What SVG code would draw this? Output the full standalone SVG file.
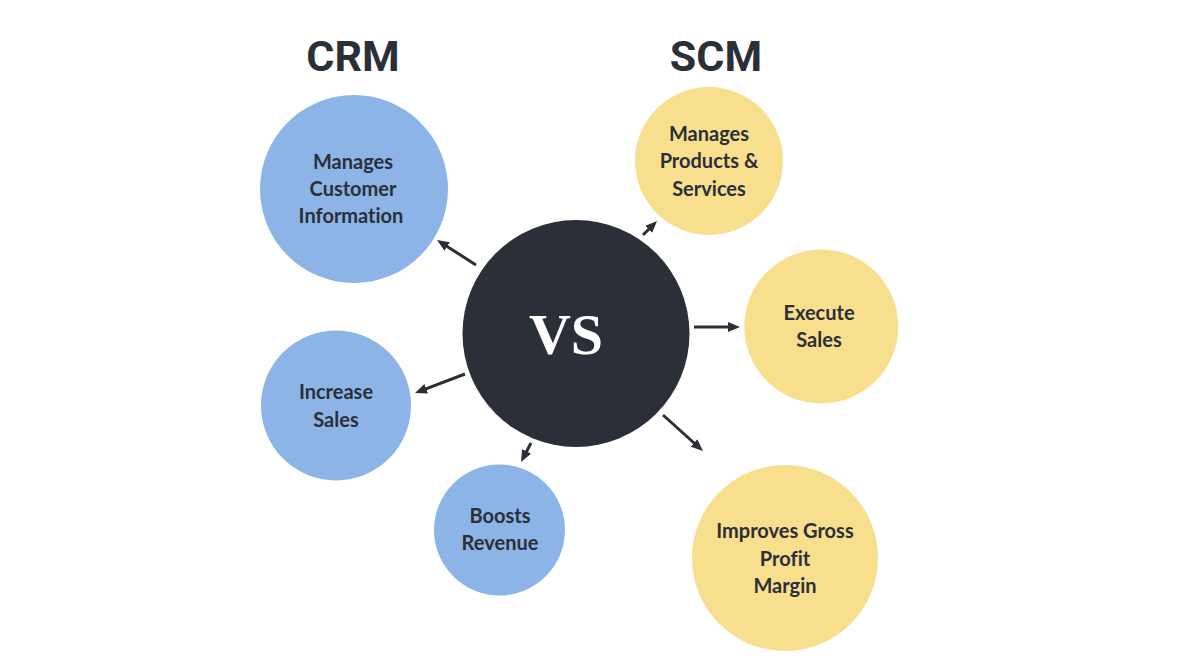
<svg xmlns="http://www.w3.org/2000/svg" width="1200" height="671" viewBox="0 0 1200 671">
<style>
.title{font-family:Roboto,"Liberation Sans",sans-serif;font-weight:700;font-size:43px;fill:#2b2f38;text-anchor:middle}
.lbl{font-family:Lato,"Noto Sans",sans-serif;font-weight:700;font-size:20px;fill:#2b2f38;text-anchor:middle;font-variant-ligatures:none}
.crm{fill:#8db4e7}
.scm{fill:#f7df8e}
.hub{fill:#2b2f38}
.vs{font-family:"Liberation Serif","DejaVu Serif",serif;font-weight:700;font-size:58px;fill:#ffffff;text-anchor:middle}
.conn{stroke:#2b2f38;stroke-width:3;fill:none;marker-end:url(#ah)}
</style>
<defs>
<marker id="ah" markerUnits="userSpaceOnUse" markerWidth="12" markerHeight="10" refX="6" refY="5" orient="auto">
<path d="M0,0 L12,5 L0,10 z" fill="#2b2f38"/>
</marker>
</defs>
<rect width="1200" height="671" fill="#ffffff"/>
<g id="titles">
<text class="title" x="353" y="71">CRM</text>
<text class="title" x="716" y="71">SCM</text>
</g>
<g id="connectors">
<line class="conn" x1="476" y1="265" x2="442.1" y2="243.2"/>
<line class="conn" x1="465" y1="374" x2="420.6" y2="390.9"/>
<line class="conn" x1="531" y1="443" x2="523.8" y2="456.7"/>
<line class="conn" x1="643" y1="235" x2="652.8" y2="225.2"/>
<line class="conn" x1="694" y1="327" x2="734" y2="327"/>
<line class="conn" x1="663" y1="415" x2="698.5" y2="447"/>
</g>
<g id="hub">
<circle class="hub" cx="576" cy="333.5" r="113.5"/>
<text class="vs" x="566" y="354">VS</text>
</g>
<g id="crm-customer">
<circle class="crm" cx="354" cy="189" r="94"/>
<text class="lbl" x="353" y="169">Manages</text>
<text class="lbl" x="353" y="196">Customer</text>
<text class="lbl" x="351" y="223">Information</text>
</g>
<g id="crm-sales">
<circle class="crm" cx="336" cy="405.5" r="75"/>
<text class="lbl" x="336" y="399">Increase</text>
<text class="lbl" x="336" y="426.5">Sales</text>
</g>
<g id="crm-revenue">
<circle class="crm" cx="499.5" cy="530" r="65.5"/>
<text class="lbl" x="500" y="522.5">Boosts</text>
<text class="lbl" x="500" y="550">Revenue</text>
</g>
<g id="scm-products">
<circle class="scm" cx="709" cy="161" r="74"/>
<text class="lbl" x="709" y="141">Manages</text>
<text class="lbl" x="709" y="168.3">Products &amp;</text>
<text class="lbl" x="709" y="195.6">Services</text>
</g>
<g id="scm-sales">
<circle class="scm" cx="821.3" cy="326.5" r="77"/>
<text class="lbl" x="819" y="320">Execute</text>
<text class="lbl" x="819" y="346.7">Sales</text>
</g>
<g id="scm-margin">
<circle class="scm" cx="785" cy="558" r="93"/>
<text class="lbl" x="785" y="538.3">Improves Gross</text>
<text class="lbl" x="785" y="566">Profit</text>
<text class="lbl" x="785" y="593.3">Margin</text>
</g>
</svg>
